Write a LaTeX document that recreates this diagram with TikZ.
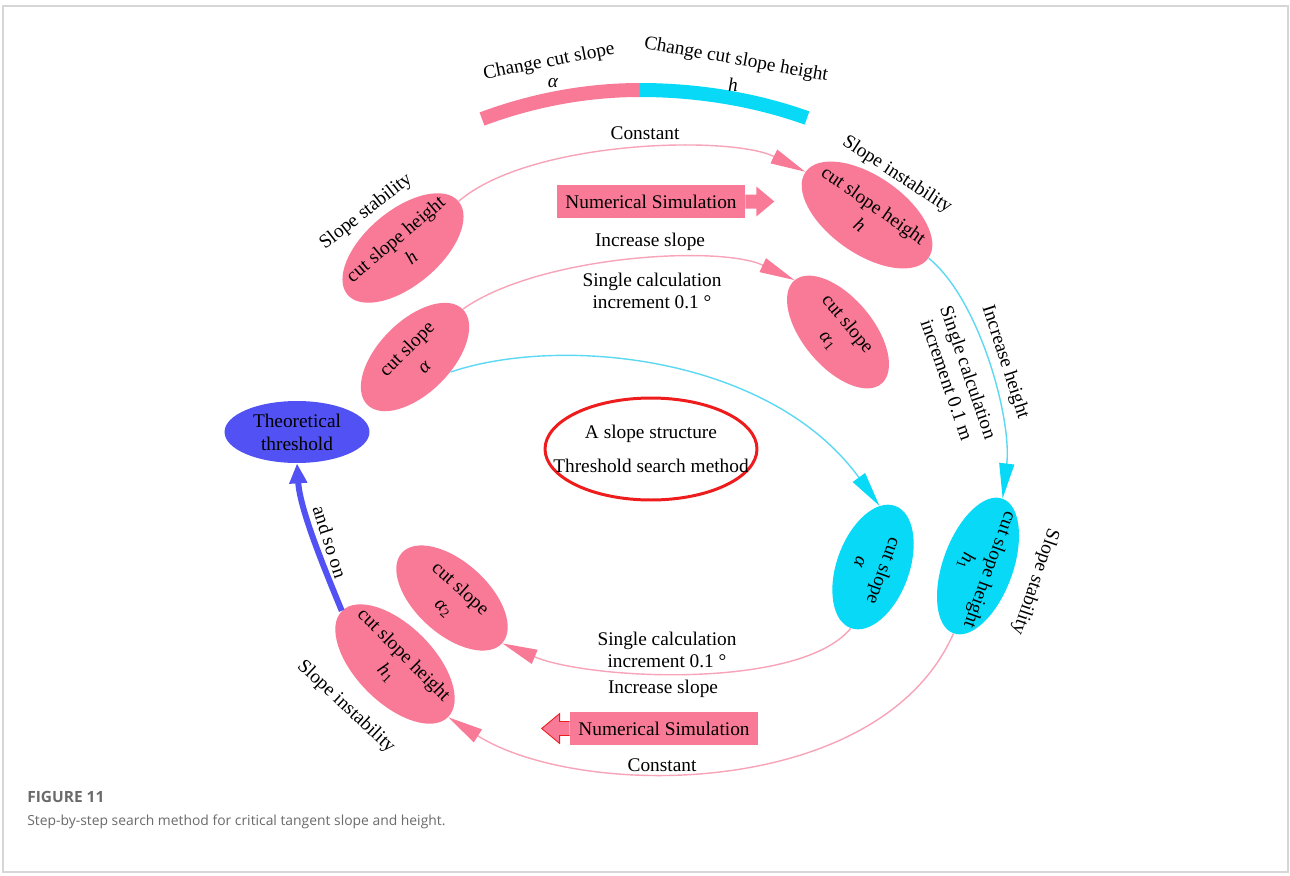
\documentclass[tikz,border=0pt]{standalone}
\usepackage{fontspec}
\setmainfont{Liberation Serif}
\newfontfamily\capfont{Open Sans}
\usepackage{tikz}
\usetikzlibrary{arrows.meta, shapes.geometric}
\definecolor{simpink}{HTML}{F87A97}
\definecolor{simcyan}{HTML}{08D9F6}
\definecolor{simblue}{HTML}{5252F4}
\definecolor{linepink}{HTML}{F7A3B8}
\definecolor{linecyan}{HTML}{5CD8F2}
\definecolor{simred}{HTML}{EE1C1C}
\definecolor{framegray}{HTML}{D6D6D6}
\definecolor{captext}{HTML}{6A6A6A}

\begin{document}
\begin{tikzpicture}[x=0.02cm, y=-0.02cm,
    every node/.style={font=\fontsize{11}{13}\selectfont},
    stepnode/.style={ellipse, fill=#1, inner xsep=-6pt, inner ysep=0pt, align=center,
                     minimum width=2.8cm, minimum height=1.45cm},
    simbox/.style={rectangle, fill=simpink, minimum width=3.76cm, minimum height=0.66cm,
                   inner sep=0pt},
    flowpink/.style={draw=linepink, line width=0.8pt,
                     -{Triangle[length=7mm, width=3mm, color=simpink]}},
    flowcyan/.style={draw=linecyan, line width=0.8pt,
                     -{Triangle[length=7mm, width=3mm, color=simcyan]}},
    flowblue/.style={draw=simblue, line width=3.4pt, -{Triangle[length=4mm, width=3.4mm]}},
    capline/.style={anchor=west, inner sep=0pt, text=captext}
  ]
    \useasboundingbox (0,0) rectangle (1290,875);
    \draw[framegray, line width=1pt] (3,6) rectangle (1288,872);

    % Top band
    \draw[simpink, line width=0.28cm] (482,119) .. controls (530.4,100.9) and (584.2,90) .. (640,90);
    \draw[simcyan, line width=0.28cm] (640,90) .. controls (695.8,90) and (753.6,98.9) .. (807,118);
    \node[rotate=11]  (chgA)    at (549,62) {Change cut slope};
    \node             (chgAsym) at (553,83) {\textit{α}};
    \node[rotate=-10] (chgH)    at (736,60) {Change cut slope height};
    \node             (chgHsym) at (733,85) {\textit{h}};

    % Steps
    \node[stepnode=simpink, rotate=40, minimum width=2.9cm, minimum height=1.5cm]
      (hUL) at (403,248) {cut slope height\\[1pt]\textit{h}};
    \node[stepnode=simpink, rotate=-35, minimum width=3cm, minimum height=1.55cm]
      (hUR) at (867,215) {cut slope height\\[1pt]\textit{h}};
    \node[stepnode=simpink, rotate=45, minimum width=2.7cm, minimum height=1.45cm]
      (slopeA) at (415,357) {cut slope\\[1pt]\textit{α}};
    \node[stepnode=simpink, rotate=-50, minimum width=2.7cm, minimum height=1.4cm]
      (slopeA1) at (838,332) {cut slope\\[1pt]\textit{α}\textsubscript{1}};
    \node[stepnode=simcyan, rotate=-110, minimum width=2.6cm, minimum height=1.45cm]
      (cyanA) at (873,567) {cut slope\\[1pt]\textit{α}};
    \node[stepnode=simcyan, rotate=-110, minimum width=2.8cm, minimum height=1.4cm]
      (cyanH1) at (978,566) {cut slope height\\[1pt]\textit{h}\textsubscript{1}};
    \node[stepnode=simpink, rotate=-42, minimum width=2.7cm, minimum height=1.45cm]
      (slopeA2) at (452,598) {cut slope\\[1pt]\textit{α}\textsubscript{2}};
    \node[stepnode=simpink, rotate=-45, minimum width=3cm, minimum height=1.55cm]
      (hLL) at (395,664) {cut slope height\\[1pt]\textit{h}\textsubscript{1}};
    \node[ellipse, fill=simblue, align=center, minimum width=2.9cm, minimum height=1.24cm,
          inner sep=0pt] (theo) at (297,432) {Theoretical\\threshold};
    \node[ellipse, draw=simred, line width=1.7pt, fill=white, align=center, inner xsep=-14pt,
          inner ysep=0pt, minimum width=4.24cm, minimum height=2.04cm]
      (core) at (651,449) {A slope structure\\[6pt]Threshold search method};

    % Side labels
    \node[rotate=38]   (stabUL)   at (366,212) {Slope stability};
    \node[rotate=-33]  (instabUR) at (897,175) {Slope instability};
    \node[rotate=-109] (stabR)    at (1035,582) {Slope stability};
    \node[rotate=-43]  (instabLL) at (346,707) {Slope instability};

    % Flow
    \draw[flowpink] (hUL.east) .. controls (530,140) and (730,135) .. (hUR.west);
    \draw[flowpink] (slopeA.east) .. controls (540,255) and (720,245) .. (slopeA1.west);
    \draw[flowcyan] (hUR.east) .. controls (980,300) and (1012,420) .. (cyanH1.west);
    \draw[flowcyan] (slopeA.-68) .. controls (560,335) and (770,355) .. (cyanA.194);
    \draw[flowpink] (cyanA.east) .. controls (800,690) and (590,680) .. (slopeA2.east);
    \draw[flowpink] (cyanH1.east) .. controls (880,800) and (580,800) .. (hLL.east);
    \draw[flowblue] (hLL.west) .. controls (325,570) and (300,510) .. (theo.south);

    % Flow labels
    \node (constTop) at (645,133) {Constant};
    \node[simbox] (numTop) at (651,201.5) {Numerical Simulation};
    \fill[simpink] (numTop.east) ++(0,-7) -- ++(11,0) -- ++(0,-8) -- ++(18,15)
      -- ++(-18,15) -- ++(0,-8) -- ++(-11,0) -- cycle;
    \node (incSlopeTop) at (650,242) {Increase slope};
    \node[align=center] (stepDegTop) at (652,291) {Single calculation\\increment 0.1 °};
    \node[rotate=-72] (incHeight) at (1005,362) {Increase height};
    \node[rotate=-71, align=center] (stepM) at (958,376) {Single calculation\\increment 0.1 m};
    \node[rotate=-72] (andSo) at (330,542) {and so on};
    \node[align=center] (stepDegBot) at (667,650) {Single calculation\\increment 0.1 °};
    \node (incSlopeBot) at (663,689) {Increase slope};
    \node[simbox] (numBot) at (664,728.5) {Numerical Simulation};
    \filldraw[fill=simpink, draw=simred, line width=0.5pt] (numBot.west) ++(0,-7) -- ++(-10,0)
      -- ++(0,-8) -- ++(-18,15) -- ++(18,15) -- ++(0,-8) -- ++(10,0);
    \node (constBot) at (662,765) {Constant};

    % Caption
    \node[capline, font=\capfont\bfseries\fontsize{8.8}{10}\selectfont] (figNo) at (27,797) {FIGURE 11};
    \node[capline, font=\capfont\fontsize{7.9}{10}\selectfont] (figText) at (27,822)
      {Step-by-step search method for critical tangent slope and height.};
\end{tikzpicture}
\end{document}
